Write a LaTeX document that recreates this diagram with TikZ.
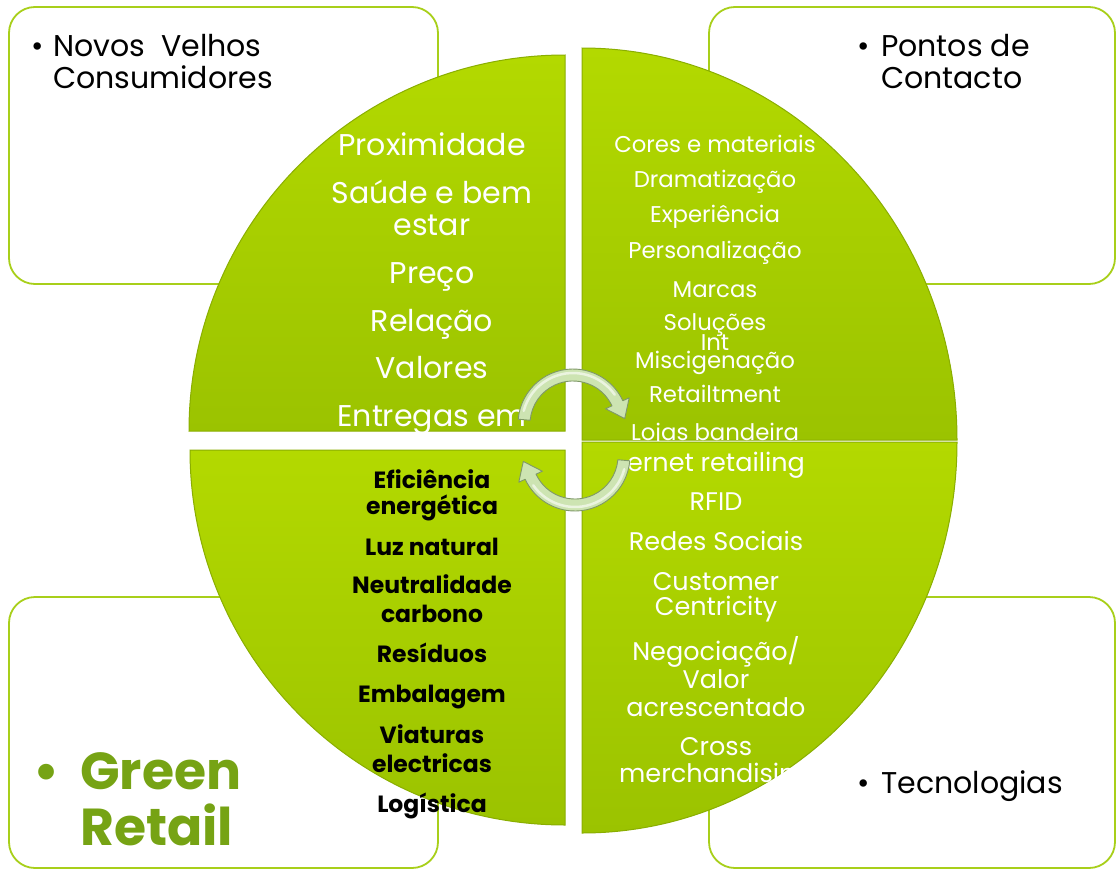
\documentclass[tikz,border=0pt]{standalone}
\usepackage{fontspec}
\setmainfont{Poppins}
\usetikzlibrary{calc}
\definecolor{boxline}{HTML}{A8CF1A}
\definecolor{qlight}{HTML}{B3D900}
\definecolor{qdark}{HTML}{9BC300}
\definecolor{qedge}{HTML}{8AAE00}
\definecolor{greentxt}{HTML}{76A314}
\definecolor{arrowfill}{HTML}{CDE4B2}
\definecolor{arrowedge}{HTML}{7F9868}
\begin{document}
\begin{tikzpicture}[x=1pt,y=-1pt,
  box/.style={draw=boxline,line width=1.8pt,rounded corners=26pt},
  quad/.style={draw=qedge,line width=1pt,top color=qlight,bottom color=qdark},
  lbl/.style={anchor=base west,inner sep=0pt,font=\fontsize{30}{30}\selectfont,text=black},
  bul/.style={anchor=base,inner sep=0pt,font=\fontsize{30}{30}\selectfont,text=black},
  wbig/.style={anchor=base,inner sep=0pt,font=\fontsize{30}{30}\selectfont,text=white},
  wsmall/.style={anchor=base,inner sep=0pt,font=\fontsize{22.8}{22.8}\selectfont,text=white},
  wmid/.style={anchor=base,inner sep=0pt,font=\fontsize{25.5}{25.5}\selectfont,text=white},
  bk/.style={anchor=base,inner sep=0pt,font=\bfseries\fontsize{23.5}{23.5}\selectfont,text=black},
  gr/.style={anchor=base west,inner sep=0pt,font=\bfseries\fontsize{52}{52}\selectfont,text=greentxt},
  arrowband/.style={fill=arrowfill,draw=arrowedge,line width=0.9pt,line join=round}
]
\useasboundingbox (0,0) rectangle (1117,870);
\clip (0,0) rectangle (1117,870);

% outer boxes
\draw[box] (9,7) rectangle (438,284);
\draw[box] (709,7) rectangle (1115,284);
\draw[box] (9,597) rectangle (438,868);
\draw[box] (709,597) rectangle (1115,868);

% box labels
\node[bul] (b1) at (38,56) {•};
\node[lbl] (l1) at (53,56) {Novos\ \ Velhos};
\node[lbl] (l1b) at (53,88) {Consumidores};
\node[bul] (b2) at (864,56) {•};
\node[lbl] (l2) at (881,56) {Pontos de};
\node[lbl] (l2b) at (881,88) {Contacto};
\node[bul] (b3) at (864,793) {•};
\node[lbl] (l3) at (881,793) {Tecnologias};
\node[anchor=base,inner sep=0pt,font=\bfseries\fontsize{52}{52}\selectfont,text=greentxt] (b4) at (47,789) {•};
\node[gr] (l4) at (80,789) {Green};
\node[gr] (l4b) at (80,845) {Retail};

% quadrant top-left
\path[quad] (565,431) -- (189,431) arc[start angle=180,end angle=270,radius=376] -- cycle;
\foreach \yy/\t [count=\i] in {155/Proximidade, 203/Saúde e bem, 235/estar, 283/Preço, 331/Relação, 378/Valores, 426/Entregas em}
  \node[wbig] (tl\i) at (432,\yy) {\t};

% quadrant bottom-left
\path[quad] (565,450) -- (565,825) arc[start angle=90,end angle=180,radius=375] -- cycle;
\foreach \yy/\t [count=\i] in {488/Eficiência, 514/energética, 555/Luz natural, 593/Neutralidade, 622/carbono, 662/Resíduos, 702/Embalagem, 743/Viaturas, 772/electricas, 812/Logística}
  \node[bk] (bl\i) at (432,\yy) {\t};

% quadrant top-right
\path[quad] (582,440) -- (582,48) arc[start angle=270,end angle=360,x radius=375,y radius=392] -- cycle;
\foreach \yy/\t [count=\i] in {152/Cores e materiais, 187/Dramatização, 222/Experiência, 258/Personalização, 297/Marcas, 330/Soluções, 350/Int, 368/Miscigenação, 402/Retailtment, 440/Lojas bandeira}
  \node[wsmall] (tr\i) at (715,\yy) {\t};

% quadrant bottom-right
\path[quad] (582,442) -- (957,442) arc[start angle=0,end angle=90,x radius=375,y radius=391] -- cycle;
\foreach \yy/\t [count=\i] in {471/ernet retailing, 510/RFID, 550/Redes Sociais, 590/Customer, 615/Centricity, 660/{Negociação/}, 688/Valor, 716/acrescentado, 755/Cross, 782/merchandising}
  \node[wmid] (br\i) at (716,\yy) {\t};

% circular arrows
\coordinate (c1) at (573,424);
\coordinate (c2) at (575,456);
\path[arrowband] ($(c1)+(185:55)$) arc[start angle=185,end angle=335,radius=55]
  -- ($(c1)+(335:62)$) -- ($(c1)+(354:52)$) -- ($(c1)+(335:36)$) -- ($(c1)+(335:43)$)
  arc[start angle=335,end angle=185,radius=43] -- cycle;
\draw[white,line width=2.5pt,opacity=0.6,line cap=round] ($(c1)+(195:51)$) arc[start angle=195,end angle=325,radius=51];
\path[arrowband] ($(c2)+(5:55)$) arc[start angle=5,end angle=155,radius=55]
  -- ($(c2)+(155:62)$) -- ($(c2)+(174:52)$) -- ($(c2)+(155:36)$) -- ($(c2)+(155:43)$)
  arc[start angle=155,end angle=5,radius=43] -- cycle;
\draw[white,line width=2.5pt,opacity=0.6,line cap=round] ($(c2)+(15:51)$) arc[start angle=15,end angle=145,radius=51];
\end{tikzpicture}
\end{document}
